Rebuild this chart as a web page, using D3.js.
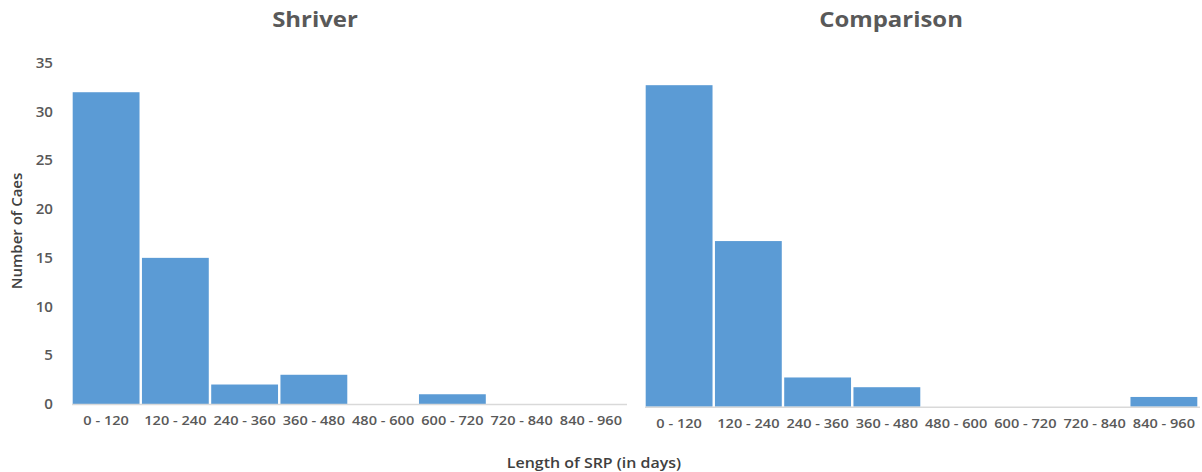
<!DOCTYPE html>
<html>
<head>
<meta charset="utf-8">
<script src="https://cdn.jsdelivr.net/npm/d3@7"></script>
<style>
  html, body { margin: 0; padding: 0; background: #fff; }
  svg { display: block; font-family: "Open Sans", "Segoe UI", sans-serif; }
</style>
</head>
<body>
<svg id="chart" width="1202" height="472"></svg>
<script>
// Length-of-SRP bins (days)
const bins = ["0 - 120", "120 - 240", "240 - 360", "360 - 480", "480 - 600", "600 - 720", "720 - 840", "840 - 960"];
// Case counts per bin
const shriverCounts = [32, 15, 2, 3, 0, 1, 0, 0];
const comparisonCounts = [33, 17, 3, 2, 0, 0, 0, 1];
const yTicks = [0, 5, 10, 15, 20, 25, 30, 35];

const svg = d3.select("#chart");
const barColor = "#5b9bd5";
const textColor = "#595959";

function panel(cfg) {
  const g = svg.append("g");
  const x = d3.scaleBand().domain(bins).range([cfg.x0, cfg.x1]).paddingInner(0.035).paddingOuter(0.01);
  const y = d3.scaleLinear().domain([0, 35]).range([cfg.base, cfg.base - 341]);

  if (cfg.showY) {
    const ya = d3.axisLeft(y).tickValues(yTicks).tickSize(0).tickPadding(0);
    const yg = g.append("g").attr("transform", `translate(${cfg.yLabelX},0)`).call(ya);
    yg.select(".domain").remove();
    yg.selectAll("text").attr("fill", textColor).style("font-size", "14px").style("font-weight", "600")
      .attr("font-family", "'Open Sans', sans-serif")
      .attr("transform", "scale(1.08,1)");
  }

  g.selectAll("rect.bar").data(cfg.values).enter().append("rect")
    .attr("class", "bar")
    .attr("x", (d, i) => x(bins[i]))
    .attr("width", x.bandwidth())
    .attr("y", d => y(d))
    .attr("height", d => cfg.base - y(d))
    .attr("fill", barColor);

  g.append("line")
    .attr("x1", cfg.x0).attr("x2", cfg.x1 + 2)
    .attr("y1", cfg.base + 0.5).attr("y2", cfg.base + 0.5)
    .attr("stroke", "#d9d9d9").attr("stroke-width", 1.5);

  const xa = d3.axisBottom(x).tickSize(0).tickPadding(12);
  const xg = g.append("g").attr("transform", `translate(0,${cfg.base})`).call(xa);
  xg.select(".domain").remove();
  xg.selectAll("text").attr("fill", textColor).style("font-size", "13px").style("font-weight", "600")
    .attr("font-family", "'Open Sans', sans-serif")
    .attr("transform", "scale(1.12,1)");

  g.append("text")
    .attr("transform", `translate(${cfg.titleX},27) scale(1.14,1)`)
    .attr("text-anchor", "middle")
    .attr("fill", textColor)
    .style("font-size", "21px").style("font-weight", "700")
    .text(cfg.title);
}

panel({ x0: 72, x1: 625, base: 404, showY: true, yLabelX: 53, values: shriverCounts, title: "Shriver", titleX: 315 });
panel({ x0: 645, x1: 1198, base: 406.7, showY: false, values: comparisonCounts, title: "Comparison", titleX: 891 });

// Axis titles
svg.append("text")
  .attr("transform", "translate(22,231) rotate(-90)")
  .attr("text-anchor", "middle")
  .attr("fill", "#404040")
  .style("font-size", "15px").style("font-weight", "600")
  .text("Number of Caes");

svg.append("text")
  .attr("transform", "translate(594,468) scale(1.14,1)")
  .attr("text-anchor", "middle")
  .attr("fill", "#404040")
  .style("font-size", "14px").style("font-weight", "600")
  .text("Length of SRP (in days)");
</script>
</body>
</html>
